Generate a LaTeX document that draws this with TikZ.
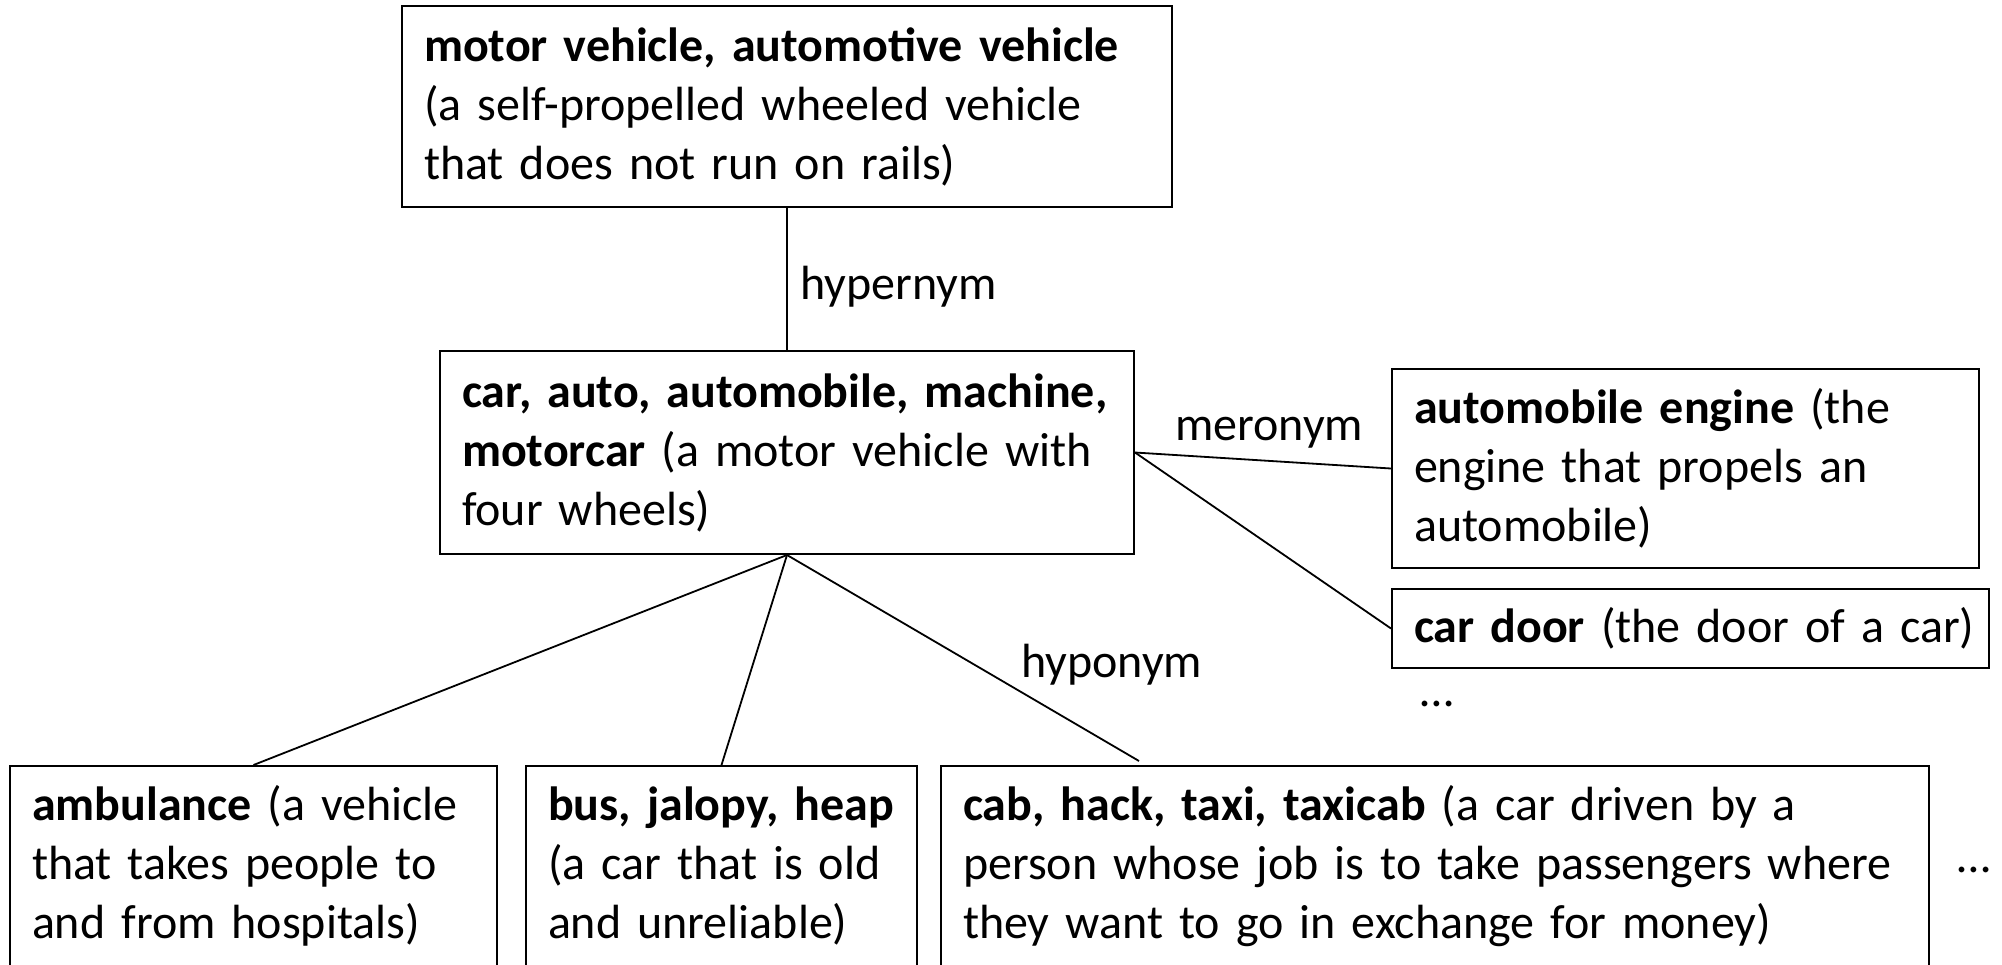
\documentclass[tikz,border=0pt]{standalone}
\usepackage{fontspec}
\setmainfont{Carlito}
\usepackage{tikz}
\tikzset{
  synset/.style = {rectangle, draw=black, line width=2pt, align=left,
    inner xsep=22pt, inner ysep=0pt, font=\fontsize{48}{59}\selectfont},
  relname/.style = {inner sep=0pt, anchor=base west,
    font=\fontsize{48}{59}\selectfont}
}
\begin{document}
\begin{tikzpicture}[x=1pt,y=-1pt]
  \useasboundingbox (0,0) rectangle (2002,964);
  \node [synset, text width=726pt, minimum height=201pt] (motorveh) at (787,106.5)
    {\textbf{motor vehicle, automotive vehicle}\\(a self-propelled wheeled vehicle\\that does not run on rails)};
  \node [synset, text width=650pt, minimum height=203pt] (car) at (787,452.5)
    {\textbf{car, auto, automobile, machine,}\\\textbf{motorcar} (a motor vehicle with\\four wheels)};
  \node [synset, text width=543pt, minimum height=199pt] (engine) at (1685.5,468.5)
    {\textbf{automobile engine} (the\\engine that propels an\\automobile)};
  \node [synset, text width=553pt, minimum height=79pt] (door) at (1690.5,628.5)
    {\mbox{\textbf{car door} (the door of a car)}};
  \node [synset, text width=443pt, minimum height=200pt] (ambulance) at (253.5,866)
    {\textbf{ambulance} (a vehicle\\that takes people to\\and from hospitals)};
  \node [synset, text width=347pt, minimum height=200pt] (bus) at (721.5,866)
    {\textbf{bus, jalopy, heap}\\(a car that is old\\and unreliable)};
  \node [synset, text width=944pt, minimum height=200pt] (cab) at (1435,866)
    {\textbf{cab, hack, taxi, taxicab} (a car driven by a\\person whose job is to take passengers where\\they want to go in exchange for money)};
  \coordinate (cabend) at ([xshift=199pt,yshift=4pt]cab.north west);

  \node [relname] (hyper) at (800,299) {hypernym};
  \node [relname] (mero) at (1175,440) {meronym};
  \node [relname] (hypo) at (1021,677) {hyponym};
  \node [relname] (moreparts) at (1420,706) {…};
  \node [relname] (morekinds) at (1957,872) {…};

  \foreach \from/\to in {motorveh.south/car.north, car.east/engine.west, car.east/door.west,
    car.south/ambulance.north, car.south/bus.north, car.south/cabend}
    \draw [line width=1.8pt] (\from) -- (\to);
\end{tikzpicture}
\end{document}
